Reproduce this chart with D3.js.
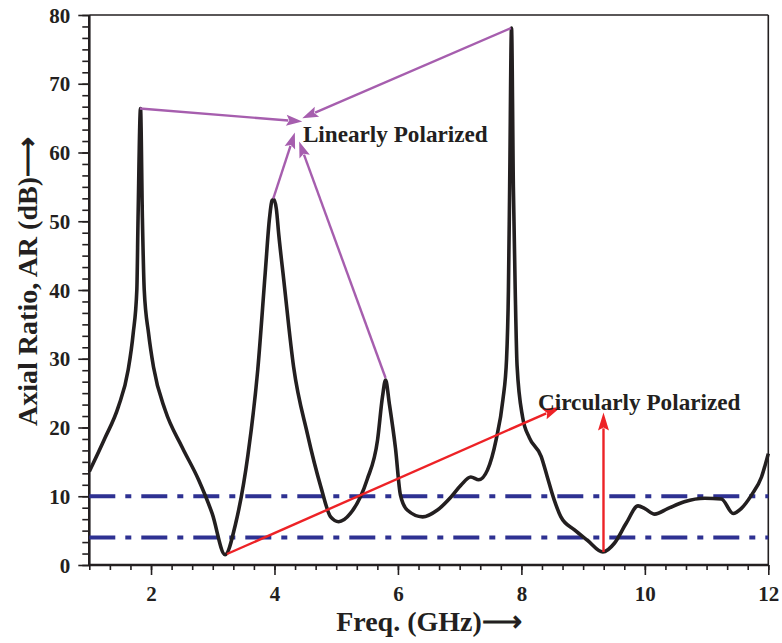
<!DOCTYPE html>
<html>
<head>
<meta charset="utf-8">
<script src="https://cdn.jsdelivr.net/npm/d3@7"></script>
<style>
  html, body { margin: 0; padding: 0; background: #fff; }
  svg { display: block; }
  text { font-family: "Liberation Serif", "Times New Roman", serif; font-weight: bold; fill: #231f20; }
</style>
</head>
<body>
<svg id="chart" width="782" height="643"></svg>
<script>
// ---- data ----
const freq = [1.0, 1.25, 1.47, 1.63, 1.71, 1.77, 1.79, 1.83, 1.86, 1.89, 1.96, 2.04, 2.23, 2.50, 2.77, 2.99,
  3.20, 3.37, 3.57, 3.73, 3.85, 3.92, 3.96, 3.99, 4.03, 4.07, 4.15, 4.31, 4.53, 4.75, 4.91, 5.04, 5.23, 5.50, 5.67, 5.75,
  5.80, 5.86, 5.96, 6.04, 6.15, 6.40, 6.64, 6.86, 7.02, 7.18, 7.31, 7.45, 7.59, 7.70, 7.76, 7.79, 7.81, 7.84,
  7.87, 7.90, 7.93, 8.02, 8.13, 8.32, 8.42, 8.53, 8.64, 8.86, 9.07, 9.32, 9.51, 9.70, 9.89, 10.0, 10.16, 10.37,
  10.64, 10.97, 11.24, 11.43, 11.56, 11.73, 11.89, 12.0];
const axialRatio = [13.6, 18.4, 23.0, 28.4, 33.6, 40.0, 50.5, 66.4, 50.5, 40.0, 33.7, 28.8, 22.5, 17.2, 12.4, 7.5,
  1.5, 6.0, 16.0, 28.5, 42.5, 50.5, 53.0, 53.2, 51.8, 48.0, 41.5, 28.8, 19.2, 11.4, 7.0, 6.3, 7.5, 12.4, 18.2, 24.5,
  26.9, 23.5, 17.0, 10.2, 8.0, 7.0, 8.0, 9.9, 11.6, 12.8, 12.4, 13.8, 18.2, 24.0, 30.0, 40.0, 55.0, 78.1,
  55.0, 40.0, 29.0, 21.5, 18.5, 15.8, 12.8, 9.5, 7.0, 5.1, 3.6, 1.9, 3.2, 6.1, 8.6, 8.2, 7.4, 8.2,
  9.2, 9.7, 9.6, 7.5, 8.2, 10.2, 12.8, 16.2];
const refLevels = [10, 4];
const xTicks = [2, 4, 6, 8, 10, 12];
const yTicks = [0, 10, 20, 30, 40, 50, 60, 70, 80];
const xTitle = "Freq. (GHz)\u27F6";
const yTitle = "Axial Ratio, AR (dB)\u27F6";
// annotation arrows: [fromFreq, fromAR, toFreq, toAR]
const linearArrows = [[1.82, 66.4, 4.45, 64.5], [7.83, 78.1, 4.45, 65.0], [3.98, 53.3, 4.33, 62.9], [5.80, 27.2, 4.40, 61.6]];
const circularArrows = [[3.23, 1.6, 8.64, 23.0], [9.33, 1.9, 9.33, 22.2]];
const labels = [{text: "Linearly Polarized", f: 4.46, v: 61.6}, {text: "Circularly Polarized", f: 8.27, v: 22.5}];

// ---- drawing ----
const svg = d3.select("#chart");
const L = 89.3, R = 768.3, T = 15, B = 565;
const x = d3.scaleLinear().domain([1, 12]).range([L, R]);
const y = d3.scaleLinear().domain([0, 80]).range([B, T]);
const ink = "#231f20";

// frame top/right
svg.append("line").attr("x1", L).attr("x2", R).attr("y1", T).attr("y2", T).attr("stroke", ink).attr("stroke-width", 1.6);
svg.append("line").attr("x1", R).attr("x2", R).attr("y1", T).attr("y2", B).attr("stroke", ink).attr("stroke-width", 1.6);

// minor ticks
const xMinor = d3.range(1, 12.001, 1 / 3);
const yMinor = d3.range(0, 80.001, 10 / 6);
const gxm = svg.append("g").attr("transform", `translate(0,${B})`)
  .call(d3.axisBottom(x).tickValues(xMinor).tickSize(5).tickFormat(""));
const gym = svg.append("g").attr("transform", `translate(${L},0)`)
  .call(d3.axisLeft(y).tickValues(yMinor).tickSize(7).tickFormat(""));
// major ticks
const gx = svg.append("g").attr("transform", `translate(0,${B})`)
  .call(d3.axisBottom(x).tickValues(xTicks).tickSize(10).tickPadding(11).tickFormat(d3.format("d")));
const gy = svg.append("g").attr("transform", `translate(${L},0)`)
  .call(d3.axisLeft(y).tickValues(yTicks).tickSize(11).tickPadding(8).tickFormat(d3.format("d")));
[gxm, gym, gx, gy].forEach(g => {
  g.selectAll(".domain").remove();
  g.selectAll(".tick line").attr("stroke", ink).attr("stroke-width", 1.6);
  g.selectAll("text").attr("font-family", "Liberation Serif, serif").attr("font-weight", "bold")
    .attr("font-size", 21).attr("fill", ink);
});
gy.selectAll("text").attr("dy", "0.34em");
// axis lines
svg.append("line").attr("x1", L).attr("x2", R).attr("y1", B).attr("y2", B).attr("stroke", ink).attr("stroke-width", 2.6);
svg.append("line").attr("x1", L).attr("x2", L).attr("y1", T).attr("y2", B).attr("stroke", ink).attr("stroke-width", 2.6);

// reference dash-dot lines
svg.selectAll(".ref").data(refLevels).enter().append("line")
  .attr("x1", L).attr("x2", R).attr("y1", d => y(d)).attr("y2", d => y(d))
  .attr("stroke", "#2e3192").attr("stroke-width", 4).attr("stroke-dasharray", "26,10,6,10");

// curve
const pts = freq.map((f, i) => [f, axialRatio[i]]);
svg.append("path").datum(pts)
  .attr("d", d3.line().x(d => x(d[0])).y(d => y(d[1])).curve(d3.curveMonotoneX))
  .attr("fill", "none").attr("stroke", ink).attr("stroke-width", 3.6).attr("stroke-linejoin", "round");

// arrows
function arrow(a, color, width, headLen, headHalf) {
  const x1 = x(a[0]), y1 = y(a[1]), x2 = x(a[2]), y2 = y(a[3]);
  const dx = x2 - x1, dy = y2 - y1, len = Math.hypot(dx, dy);
  const ux = dx / len, uy = dy / len;
  const bx = x2 - ux * headLen, by = y2 - uy * headLen;
  svg.append("line").attr("x1", x1).attr("y1", y1).attr("x2", bx + ux * 2).attr("y2", by + uy * 2)
    .attr("stroke", color).attr("stroke-width", width);
  svg.append("path")
    .attr("d", `M${x2},${y2}L${bx - uy * headHalf},${by + ux * headHalf}L${bx + ux * 3},${by + uy * 3}L${bx + uy * headHalf},${by - ux * headHalf}Z`)
    .attr("fill", color);
}
linearArrows.forEach(a => arrow(a, "#a65eae", 2.4, 16, 5.5));
circularArrows.forEach(a => arrow(a, "#ed2226", 2.4, 18, 5.5));

// labels
svg.selectAll(".lbl").data(labels).enter().append("text")
  .attr("x", d => x(d.f)).attr("y", d => y(d.v))
  .attr("font-size", 23.2).text(d => d.text);

// axis titles
svg.append("text").attr("x", 429).attr("y", 631).attr("text-anchor", "middle")
  .attr("font-size", 28).text(xTitle);
svg.append("text").attr("transform", "translate(37,137) rotate(-90)").attr("text-anchor", "end")
  .attr("font-size", 28).text(yTitle);
</script>
</body>
</html>
